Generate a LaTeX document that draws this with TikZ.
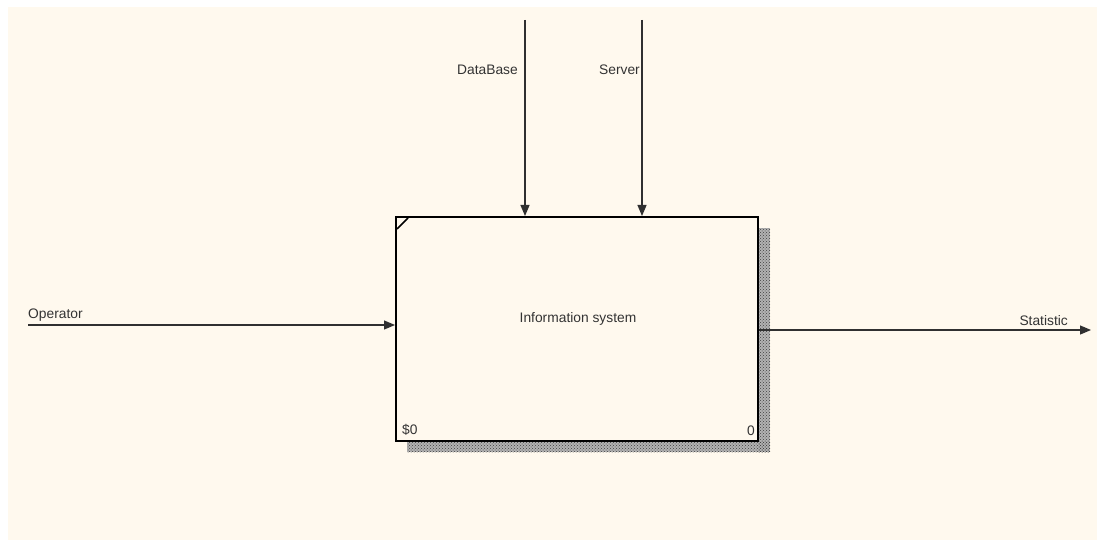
\documentclass[tikz,border=0pt]{standalone}
\usepackage{fontspec}
\setmainfont{Liberation Sans}
\usetikzlibrary{arrows.meta,patterns}
\definecolor{cream}{HTML}{FFF9EE}
\definecolor{conn}{HTML}{303030}
\begin{document}
\begin{tikzpicture}[x=1pt,y=-1pt,
  lbl/.style={font=\fontsize{13.8}{16}\selectfont, text=black!80, inner sep=0pt},
  flow/.style={draw=conn, line width=1.2pt, -{Triangle[length=11pt,width=9pt]}},
  actbox/.style={draw=black, line width=2pt, fill=cream, minimum width=362pt, minimum height=224pt, inner sep=0pt}]
\useasboundingbox (0,0) rectangle (1097,540);
\fill[white] (0,0) rectangle (1097,540);
\fill[cream] (8,7) rectangle (1097,540);
% shadow
\fill[black!30] (407,441) rectangle (770,452);
\fill[black!30] (758,228) rectangle (770,452);
\fill[pattern=crosshatch dots, pattern color=black!75] (407,441) rectangle (770,452);
\fill[pattern=crosshatch dots, pattern color=black!75] (758,228) rectangle (770,452);
\node[actbox] (box) at (577,329) {};
\draw[black, line width=1.5pt] (408,218) -- (397,229);
\node[lbl] (title) at (578,319) {Information system};
\node[lbl, anchor=south west] (num) at (402,436) {\$0};
\node[lbl, anchor=south east] (id) at (755,436) {0};
% coordinates
\coordinate (opS) at (28,325);
\coordinate (stE) at (1091,330);
\coordinate (dbS) at (525,20);
\coordinate (svS) at (642,20);
\draw[flow] (opS) -- (box.west |- opS);
\draw[flow] (box.east |- stE) -- (stE);
\draw[flow] (dbS) -- (dbS |- box.north);
\draw[flow] (svS) -- (svS |- box.north);
\node[lbl, anchor=south west] (opL) at (28,322) {Operator};
\node[lbl, anchor=south east] (stL) at (1068,326) {Statistic};
\node[lbl, anchor=east] (dbL) at (518,70) {DataBase};
\node[lbl, anchor=east] (svL) at (640,70) {Server};
\end{tikzpicture}
\end{document}
